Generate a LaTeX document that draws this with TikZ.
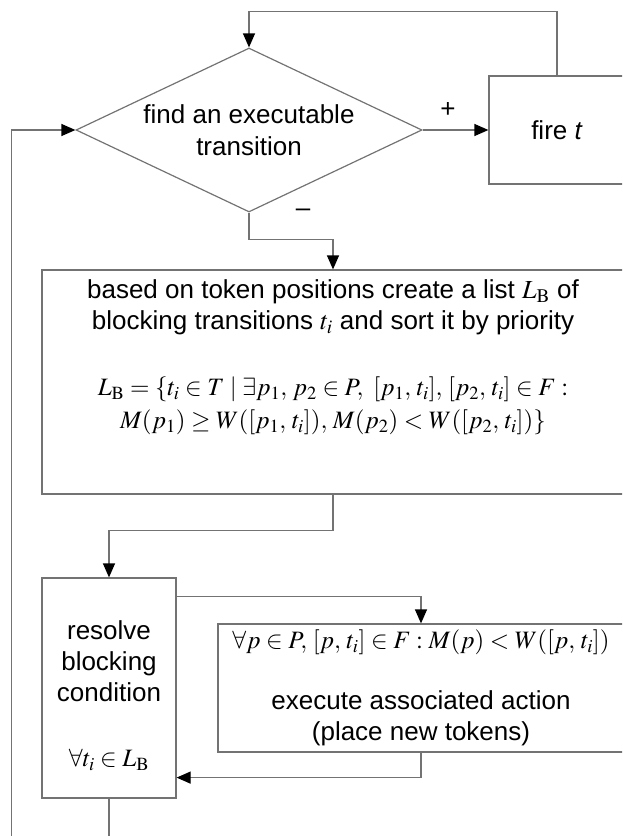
\documentclass[tikz,border=0pt]{standalone}
\usepackage{amsmath}
\usepackage{mathptmx}
\usepackage[no-math]{fontspec}
\setmainfont{Liberation Sans}
\usepackage{tikz}
\usetikzlibrary{arrows.meta,shapes.geometric,positioning}
\definecolor{linegray}{gray}{0.45}

\tikzset{
  box/.style={draw=linegray, line width=1.2pt, inner sep=0pt},
  decision/.style={diamond, draw=linegray, line width=1.2pt, inner sep=0pt, aspect=2.1,
    minimum width=346pt, minimum height=164pt, align=center},
  flow/.style={draw=linegray, line width=1.2pt,
    -{Triangle[length=14pt,width=12pt,color=black]}},
  txt/.style={inner sep=0pt, align=center},
  formula/.style={txt, font=\fontsize{25}{31}\selectfont}
}

\begin{document}
\begin{tikzpicture}[x=1pt,y=-1pt,font=\fontsize{26}{31}\selectfont]
\useasboundingbox (0,0) rectangle (622,836);
\clip (0,0) rectangle (622,836);
\node [decision] (find) at (249,130) {find an executable\\[1pt]transition};
\node [box, minimum width=136pt, minimum height=108pt] (fire) at (557,130) {fire \textit{t}};
\node [box, minimum width=582pt, minimum height=224pt] (list) at (333,382) {};
\node [box, minimum width=134pt, minimum height=220pt] (res) at (109,688) {};
\node [box, minimum width=406pt, minimum height=128pt] (act) at (421,688) {};
\node [txt] (plus) at (448,110) {+};
\node [txt] (minus) at (303,213) {\textendash};
\node [txt] (listtxt) at (333,307) {based on token positions create a list $L_{\mathrm{B}}$ of\\
  blocking transitions $t_i$ and sort it by priority};
\node [formula] (listdef) at (333,406) {$L_{\mathrm{B}} = \{t_i \in T \mid \exists p_1,\, p_2 \in P,\ [p_1,\, t_i],\, [p_2,\, t_i] \in F :$\\[2pt]
  $M(p_1) \geq W([p_1,\, t_i]),\, M(p_2) < W([p_2,\, t_i])\}$};
\node [txt] (restxt) at (109,661) {resolve\\blocking\\condition};
\node [formula] (resall) at (109,760) {$\forall t_i \in L_{\mathrm{B}}$};
\node [formula] (actcond) at (421,642) {$\forall p \in P,\, [p,\, t_i] \in F : M(p) < W([p,\, t_i])$};
\node [txt] (acttxt) at (421,718) {execute associated action\\(place new tokens)};
\draw [flow] (find.east) -- (fire.west);
\draw [flow] (fire.north) |- ([yshift=36pt]find.north) -- (find.north);
\draw [flow] (find.south) -- ++(0,27) -| (list.north);
\draw [flow] (list.south) -- ++(0,36) -| (res.north);
\draw [flow] ([yshift=-19pt]res.north east) -| (act.north);
\draw [flow] (act.south) |- ([yshift=21pt]res.south east);
\draw [flow] (res.south) -- ++(0,60) -| ([xshift=-64pt]find.west) -- (find.west);
\end{tikzpicture}
\end{document}
